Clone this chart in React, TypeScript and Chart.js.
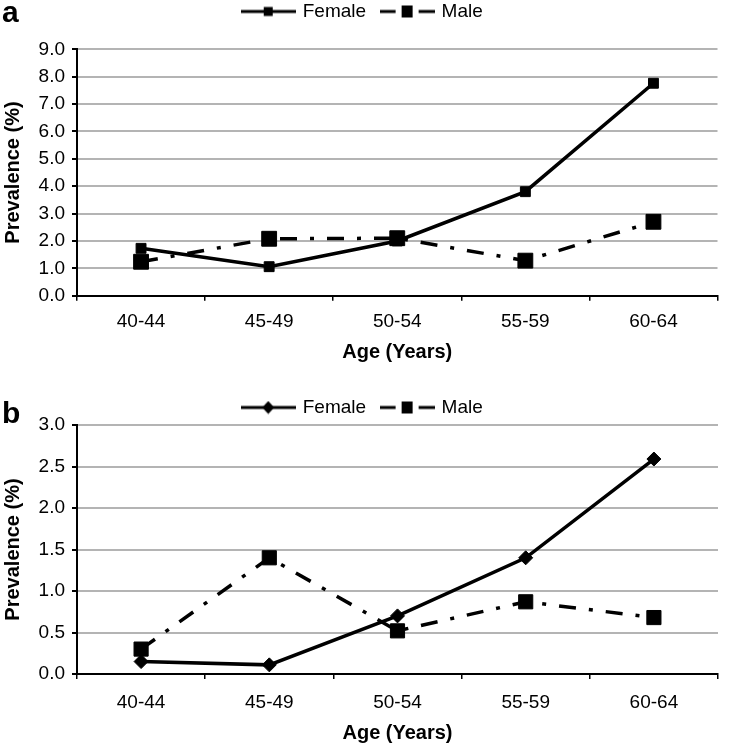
import React, { useEffect, useRef } from 'react';
import { Chart, registerables } from 'chart.js';

Chart.register(...registerables);

// ---- data ----
const categories = ['40-44', '45-49', '50-54', '55-59', '60-64'];
const seriesNames = ['Female', 'Male'];
const femaleA = [1.73, 1.06, 2.0, 3.8, 7.76];
const maleA = [1.24, 2.08, 2.1, 1.28, 2.7];
const femaleB = [0.15, 0.11, 0.7, 1.4, 2.59];
const maleB = [0.3, 1.4, 0.52, 0.87, 0.68];
const yMaxA = 9;
const yStepA = 1;
const yMaxB = 3;
const yStepB = 0.5;
const yAxisTitle = 'Prevalence (%)';
const xAxisTitle = 'Age (Years)';
const panelLabels = ['a', 'b'];

const FONT = '"Liberation Sans", Arial, Helvetica, sans-serif';
const MALE_DASH = [17, 13, 4, 13];
const TEXT_SIZE = 19;
const TITLE_SIZE = 20;

function legendImage(kind: string): HTMLCanvasElement {
  const c = document.createElement('canvas');
  c.width = 55;
  c.height = 14;
  const g = c.getContext('2d') as CanvasRenderingContext2D;
  g.fillStyle = '#000';
  const cy = 7;
  if (kind === 'male') {
    g.fillRect(0, cy - 1.5, 16, 3);
    g.fillRect(22, cy - 6, 11, 12);
    g.fillRect(39, cy - 1.5, 16, 3);
  } else {
    g.fillRect(0, cy - 1.5, 55, 3);
    if (kind === 'square') {
      g.fillRect(23, cy - 4.5, 9, 9);
    } else {
      g.beginPath();
      g.moveTo(27.5, cy - 6.5);
      g.lineTo(33.5, cy);
      g.lineTo(27.5, cy + 6.5);
      g.lineTo(21.5, cy);
      g.closePath();
      g.fill();
    }
  }
  return c;
}

const legendGap = {
  id: 'legendGap',
  beforeLayout(chart: any, _args: any, opts: any) {
    const lg = chart.legend;
    if (lg && !lg._gapPatched) {
      const protoFit = Object.getPrototypeOf(lg).fit;
      lg.fit = function () {
        protoFit.call(this);
        this.height += opts.extra || 0;
      };
      lg._gapPatched = true;
    }
  },
};

type PanelProps = {
  female: number[];
  male: number[];
  yMax: number;
  yStep: number;
  femaleStyle: string;
  femaleRadius: number;
  maleRadius: number;
  height: number;
  top: number;
  topPad: number;
  extra: number;
  xHeight: number;
  tickPad: number;
  titlePadBottom: number;
};

function Panel(p: PanelProps) {
  const ref = useRef<HTMLCanvasElement | null>(null);
  useEffect(() => {
    if (!ref.current) return;
    const imgs = [legendImage(p.femaleStyle === 'rect' ? 'square' : 'diamond'), legendImage('male')];
    const chart = new Chart(ref.current, {
      type: 'line',
      data: {
        labels: categories,
        datasets: [
          {
            label: seriesNames[0],
            data: p.female,
            borderColor: '#000',
            backgroundColor: '#000',
            borderWidth: 3.5,
            tension: 0,
            pointStyle: p.femaleStyle as any,
            pointRadius: p.femaleRadius,
            pointBackgroundColor: '#000',
            pointBorderColor: '#000',
            pointBorderWidth: 1,
          },
          {
            label: seriesNames[1],
            data: p.male,
            borderColor: '#000',
            backgroundColor: '#000',
            borderWidth: 3.5,
            borderDash: MALE_DASH,
            tension: 0,
            pointStyle: 'rect',
            pointRadius: p.maleRadius,
            pointBackgroundColor: '#000',
            pointBorderColor: '#000',
            pointBorderWidth: 1,
          },
        ],
      },
      options: {
        responsive: false,
        animation: false,
        events: [],
        layout: { padding: { top: p.topPad, right: 3, left: 0, bottom: 0 } },
        plugins: {
          tooltip: { enabled: false },
          legendGap: { extra: p.extra },
          legend: {
            display: true,
            position: 'top',
            labels: {
              usePointStyle: true,
              pointStyleWidth: 50,
              padding: 16,
              color: '#000',
              font: { family: FONT, size: TEXT_SIZE },
              generateLabels: (ch: any) =>
                ch.data.datasets.map((ds: any, i: number) => ({
                  text: ds.label,
                  pointStyle: imgs[i],
                  fillStyle: '#000',
                  strokeStyle: '#000',
                  lineWidth: 0,
                  hidden: false,
                  datasetIndex: i,
                })),
            },
          },
        } as any,
        scales: {
          x: {
            type: 'category',
            offset: true,
            afterFit: (s: any) => {
              s.height = p.xHeight;
            },
            grid: {
              display: true,
              offset: true,
              drawOnChartArea: false,
              drawTicks: true,
              tickLength: 5,
              color: '#000',
              lineWidth: 1.5,
            },
            border: { display: true, color: '#000', width: 2 },
            ticks: {
              color: '#000',
              padding: p.tickPad,
              font: { family: FONT, size: TEXT_SIZE },
              maxRotation: 0,
            },
            title: {
              display: true,
              text: xAxisTitle,
              color: '#000',
              font: { family: FONT, size: TITLE_SIZE, weight: 'bold' },
              padding: { top: 0, bottom: p.titlePadBottom },
            },
          },
          y: {
            min: 0,
            max: p.yMax,
            afterFit: (s: any) => {
              s.width = 77;
            },
            grid: {
              color: (ctx: any) => (ctx.tick && ctx.tick.value === 0 ? '#000' : '#b4b4b4'),
              lineWidth: 2,
              drawTicks: true,
              tickLength: 5,
              tickColor: '#000',
            },
            border: { display: true, color: '#000', width: 2 },
            ticks: {
              stepSize: p.yStep,
              color: '#000',
              padding: 7,
              font: { family: FONT, size: TEXT_SIZE },
              callback: (v: any) => Number(v).toFixed(1),
            },
            title: {
              display: true,
              text: yAxisTitle,
              color: '#000',
              font: { family: FONT, size: TITLE_SIZE, weight: 'bold' },
              padding: { top: 1, bottom: 0 },
            },
          },
        },
      } as any,
      plugins: [legendGap],
    });
    return () => chart.destroy();
  }, []);
  return (
    <canvas
      ref={ref}
      width={729}
      height={p.height}
      style={{ position: 'absolute', left: 0, top: p.top, width: 729, height: p.height }}
    />
  );
}

const letterStyle: React.CSSProperties = {
  position: 'absolute',
  left: 2,
  fontFamily: FONT,
  fontWeight: 'bold',
  fontSize: 30,
  lineHeight: '30px',
  color: '#000',
};

export default function App() {
  return (
    <div
      style={{
        position: 'fixed',
        left: 0,
        top: 0,
        width: 729,
        height: 746,
        overflow: 'hidden',
        background: '#fff',
      }}
    >
      <Panel
        female={femaleA}
        male={maleA}
        yMax={yMaxA}
        yStep={yStepA}
        femaleStyle="rect"
        femaleRadius={7}
        maleRadius={10.5}
        height={394}
        top={-14}
        topPad={0}
        extra={18.3}
        xHeight={84.3}
        tickPad={10}
        titlePadBottom={16}
      />
      <Panel
        female={femaleB}
        male={maleB}
        yMax={yMaxB}
        yStep={yStepB}
        femaleStyle="rectRot"
        femaleRadius={7}
        maleRadius={10}
        height={366}
        top={380}
        topPad={2}
        extra={-2}
        xHeight={72}
        tickPad={12}
        titlePadBottom={1}
      />
      <div style={{ ...letterStyle, top: -3 }}>{panelLabels[0]}</div>
      <div style={{ ...letterStyle, top: 398 }}>{panelLabels[1]}</div>
    </div>
  );
}
